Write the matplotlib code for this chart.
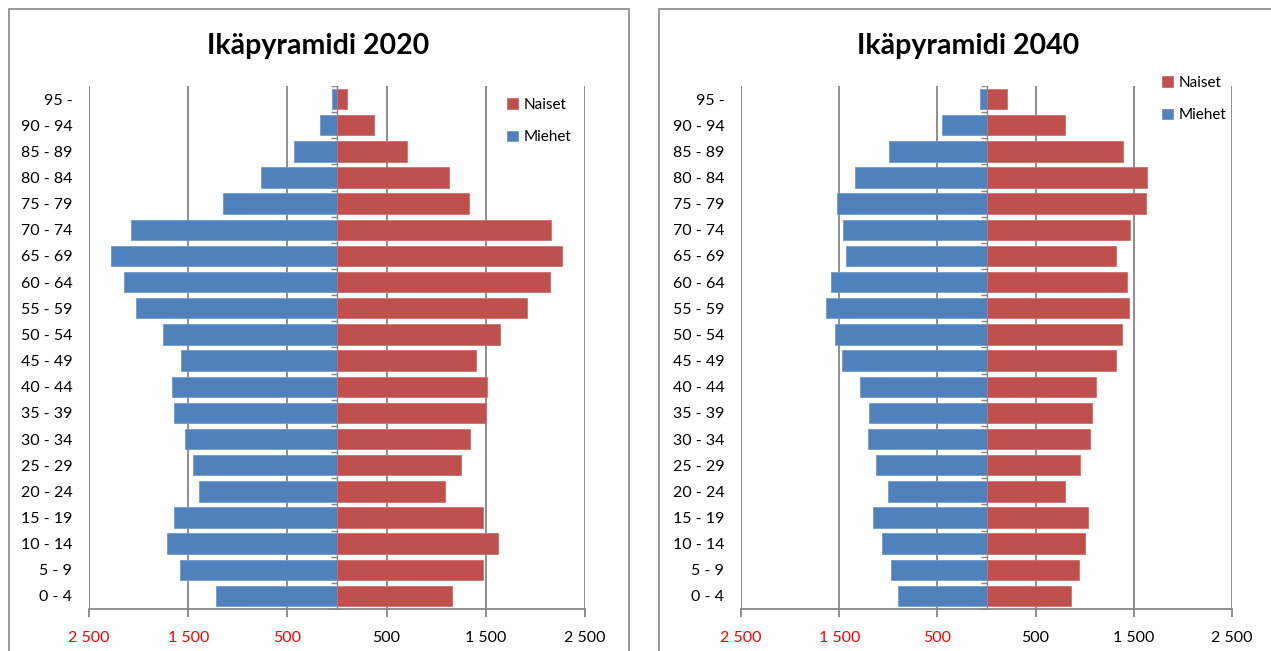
import matplotlib
matplotlib.use("Agg")
import matplotlib.pyplot as plt
from matplotlib.patches import Rectangle
from matplotlib.ticker import FixedLocator, FuncFormatter
import numpy as np

plt.rcParams['font.family'] = ['Lato', 'DejaVu Sans']

age_groups = ["0 - 4", "5 - 9", "10 - 14", "15 - 19", "20 - 24", "25 - 29", "30 - 34",
              "35 - 39", "40 - 44", "45 - 49", "50 - 54", "55 - 59", "60 - 64", "65 - 69",
              "70 - 74", "75 - 79", "80 - 84", "85 - 89", "90 - 94", "95 -"]

men_2020 = [1215, 1580, 1710, 1640, 1390, 1450, 1530, 1640, 1660, 1570,
            1750, 2030, 2150, 2280, 2080, 1145, 765, 430, 170, 50]
women_2020 = [1155, 1470, 1620, 1470, 1085, 1255, 1345, 1500, 1510, 1400,
              1640, 1920, 2150, 2270, 2160, 1335, 1125, 705, 370, 100]

men_2040 = [905, 970, 1060, 1160, 1000, 1130, 1210, 1200, 1285, 1475,
            1540, 1630, 1580, 1435, 1465, 1520, 1335, 990, 450, 70]
women_2040 = [865, 945, 1000, 1030, 795, 955, 1050, 1070, 1120, 1315,
              1375, 1455, 1435, 1315, 1465, 1620, 1630, 1385, 795, 205]

titles = ["Ikäpyramidi 2020", "Ikäpyramidi 2040"]
series_names = ["Naiset", "Miehet"]
tick_values = [-2500, -1500, -500, 500, 1500, 2500]

BLUE = "#4F81BD"
RED = "#C0504D"
GRID = "#868686"

W, H = 1271, 651
fig = plt.figure(figsize=(W / 100, H / 100), dpi=100)

def fx(px):
    return px / W

def fy(py):
    return 1 - py / H

# panel frames
for (x0, x1) in [(9, 629), (659, 1285)]:
    fig.patches.append(Rectangle((fx(x0), fy(662)), fx(x1 - x0), fy(9) - fy(662),
                                 transform=fig.transFigure, fill=False,
                                 edgecolor=GRID, lw=1.2))

panels = [
    dict(left=89, right=585, men=men_2020, women=women_2020, title=titles[0],
         tcx=318, leg=(507, 98)),
    dict(left=741, right=1232, men=men_2040, women=women_2040, title=titles[1],
         tcx=968, leg=(1162, 76)),
]

top_px, bot_px = 86, 609
y = np.arange(len(age_groups))

def fmt(v, pos):
    s = f"{abs(int(v)):,}".replace(",", " ")
    return s

for p in panels:
    ax = fig.add_axes([fx(p['left']), fy(bot_px), fx(p['right'] - p['left']),
                       fy(top_px) - fy(bot_px)])
    ax.set_xlim(-2500, 2500)
    ax.set_ylim(-0.5, len(age_groups) - 0.5)
    for v in tick_values:
        ax.axvline(v, color=GRID, lw=1.3, zorder=0)
    ax.axvline(0, color=GRID, lw=1.0, zorder=1)
    ax.plot(np.zeros(len(age_groups) + 1), np.arange(len(age_groups) + 1) - 0.5,
            linestyle='none', marker=0, markersize=4, color=GRID, mew=1.0, zorder=1)
    bm = ax.barh(y, -np.array(p['men']), height=0.78, color=BLUE, edgecolor="#6F9ACD",
                 lw=0.6, zorder=2, label=series_names[1])
    bw = ax.barh(y, np.array(p['women']), height=0.78, color=RED, edgecolor="#CE706D",
                 lw=0.6, zorder=2, label=series_names[0])
    for s in ['top', 'right', 'left']:
        ax.spines[s].set_visible(False)
    ax.spines['bottom'].set_color(GRID)
    ax.spines['bottom'].set_linewidth(1.3)
    ax.xaxis.set_major_locator(FixedLocator(tick_values))
    ax.xaxis.set_major_formatter(FuncFormatter(fmt))
    ax.tick_params(axis='x', direction='out', length=6, width=1.3, color=GRID,
                   labelsize=11.5, pad=10)
    for lab, v in zip(ax.get_xticklabels(), tick_values):
        lab.set_color('#FF0000' if v < 0 else 'black')
    ax.set_yticks(y)
    ax.set_yticklabels(age_groups)
    ax.tick_params(axis='y', length=0, labelsize=11.5, pad=12)
    ax.patch.set_alpha(0)
    fig.text(fx(p['tcx']), fy(46), p['title'], ha='center', va='center',
             fontsize=20.5, fontweight='bold')
    fig.legend([bw, bm], series_names, loc='upper left',
               bbox_to_anchor=(fx(p['leg'][0]), fy(p['leg'][1])),
               bbox_transform=fig.transFigure, frameon=False, fontsize=11,
               handlelength=0.7, handleheight=0.7, handletextpad=0.4,
               labelspacing=1.2, borderaxespad=0, borderpad=0)

fig.savefig("out.png", dpi=100)
